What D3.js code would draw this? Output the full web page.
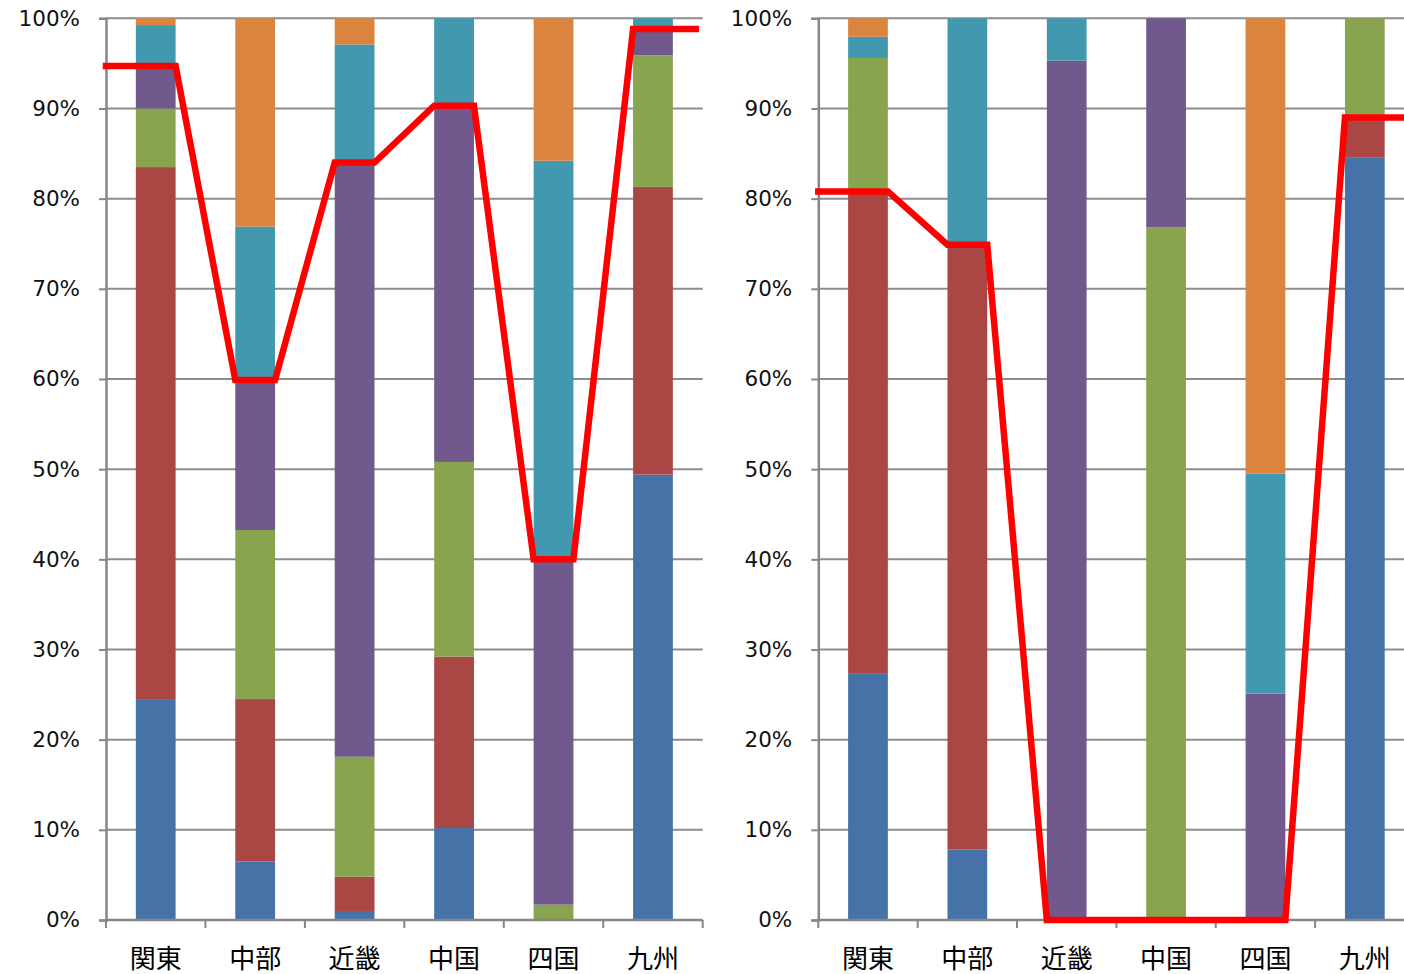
<!DOCTYPE html>
<html>
<head>
<meta charset="utf-8">
<script src="https://cdn.jsdelivr.net/npm/d3@7"></script>
<style>
  html, body { margin: 0; padding: 0; background: #fff; }
  svg { display: block; }
</style>
</head>
<body>
<svg id="chart" width="1404" height="974"></svg>
<script>
// Regions along the x axis
const categories = ['関東', '中部', '近畿', '中国', '四国', '九州'];
const seriesKeys = ['blue', 'red', 'green', 'purple', 'teal', 'orange'];
const seriesColors = ['#4673A7', '#AA4744', '#89A44E', '#71598E', '#4298AF', '#DB843D'];
const yTicks = [0, 0.1, 0.2, 0.3, 0.4, 0.5, 0.6, 0.7, 0.8, 0.9, 1.0];

// Left panel shares (%), bottom to top
const leftBlue   = [24.5, 6.5, 1.0, 10.2, 0, 49.4];
const leftRed    = [59.0, 18.0, 3.8, 19.0, 0, 31.9];
const leftGreen  = [6.5, 18.75, 13.3, 21.6, 1.7, 14.6];
const leftPurple = [4.7, 16.65, 65.9, 39.5, 38.3, 2.9];
const leftTeal   = [4.55, 17.0, 13.1, 9.7, 44.2, 1.2];
const leftOrange = [0.75, 23.1, 2.9, 0, 15.8, 0];
const leftLine   = [94.7, 59.9, 84.0, 90.3, 40.0, 98.8];

// Right panel shares (%), bottom to top
const rightBlue   = [27.3, 7.8, 0, 0, 0, 84.6];
const rightRed    = [53.3, 67.1, 0, 0, 0, 4.4];
const rightGreen  = [15.0, 0, 0, 76.8, 0, 11.0];
const rightPurple = [0, 0, 95.3, 23.2, 25.1, 0];
const rightTeal   = [2.35, 25.1, 4.7, 0, 24.4, 0];
const rightOrange = [2.05, 0, 0, 0, 50.5, 0];
const rightLine   = [80.8, 74.9, 0, 0, 0, 89.0];

function rows(cols) {
  return categories.map((c, i) => {
    const r = { cat: c };
    seriesKeys.forEach((k, j) => { r[k] = cols[j][i]; });
    return r;
  });
}

const svg = d3.select('#chart');
const plotTop = 18.3, plotBottom = 920;

function drawPanel(x0, x1, cols, lineVals) {
  const g = svg.append('g');
  const x = d3.scaleBand().domain(categories).range([x0, x1]).padding(0);
  const y = d3.scaleLinear().domain([0, 1]).range([plotBottom, plotTop]);
  const step = x.step();
  const barW = step * 0.4;

  // Horizontal gridlines
  g.append('g').selectAll('line').data(yTicks.slice(1)).join('line')
    .attr('x1', x0).attr('x2', x1)
    .attr('y1', d => y(d)).attr('y2', d => y(d))
    .attr('stroke', '#8c8c8c').attr('stroke-width', 2);

  // Stacked bars normalised to 100%
  const stack = d3.stack().keys(seriesKeys).offset(d3.stackOffsetExpand);
  const layers = stack(rows(cols));
  g.append('g').selectAll('g').data(layers).join('g')
    .attr('fill', (d, i) => seriesColors[i])
    .selectAll('rect').data(d => d).join('rect')
    .attr('x', d => x(d.data.cat) + (step - barW) / 2)
    .attr('width', barW)
    .attr('y', d => y(d[1]))
    .attr('height', d => Math.max(0, y(d[0]) - y(d[1])));

  // Y axis
  const yAxis = d3.axisLeft(y).tickValues(yTicks).tickSize(7).tickPadding(19)
    .tickFormat(d3.format('.0%'));
  const ya = g.append('g').attr('transform', `translate(${x0},0)`).call(yAxis);
  ya.select('.domain').attr('stroke', '#868686').attr('stroke-width', 2.5);
  ya.selectAll('.tick line').attr('stroke', '#868686').attr('stroke-width', 2);
  ya.selectAll('.tick text')
    .attr('font-family', '"DejaVu Sans", sans-serif')
    .attr('font-size', 21.5).attr('fill', '#111');

  // X axis with ticks on category boundaries
  const xa = g.append('g');
  xa.append('line').attr('x1', x0).attr('x2', x1)
    .attr('y1', plotBottom).attr('y2', plotBottom)
    .attr('stroke', '#868686').attr('stroke-width', 2.5);
  const bounds = categories.map(c => x(c)).concat([x1]);
  xa.selectAll('line.tk').data(bounds).join('line').attr('class', 'tk')
    .attr('x1', d => d).attr('x2', d => d)
    .attr('y1', plotBottom).attr('y2', plotBottom + 8)
    .attr('stroke', '#868686').attr('stroke-width', 2);
  xa.selectAll('text').data(categories).join('text')
    .attr('x', d => x(d) + step / 2)
    .attr('y', 956)
    .attr('text-anchor', 'middle')
    .attr('dominant-baseline', 'central')
    .attr('font-family', '"Noto Sans CJK JP", sans-serif')
    .attr('font-size', 26).attr('fill', '#000')
    .text(d => d);

  // Red level line: flat across each bar, joined bar to bar
  const pts = [];
  categories.forEach((c, i) => {
    const v = lineVals[i] / 100;
    const cx = x(c) + step / 2;
    const left = i === 0 ? x0 : cx - barW / 2;
    const right = i === categories.length - 1 ? cx + step * 0.43 : cx + barW / 2;
    pts.push([left, y(v)], [right, y(v)]);
  });
  g.append('path')
    .attr('d', d3.line()(pts))
    .attr('fill', 'none')
    .attr('stroke', '#FF0000')
    .attr('stroke-width', 6.5)
    .attr('stroke-linecap', 'square')
    .attr('stroke-linejoin', 'miter');
}

drawPanel(106, 702.7,
  [leftBlue, leftRed, leftGreen, leftPurple, leftTeal, leftOrange], leftLine);
drawPanel(818.3, 1414.5,
  [rightBlue, rightRed, rightGreen, rightPurple, rightTeal, rightOrange], rightLine);
</script>
</body>
</html>
